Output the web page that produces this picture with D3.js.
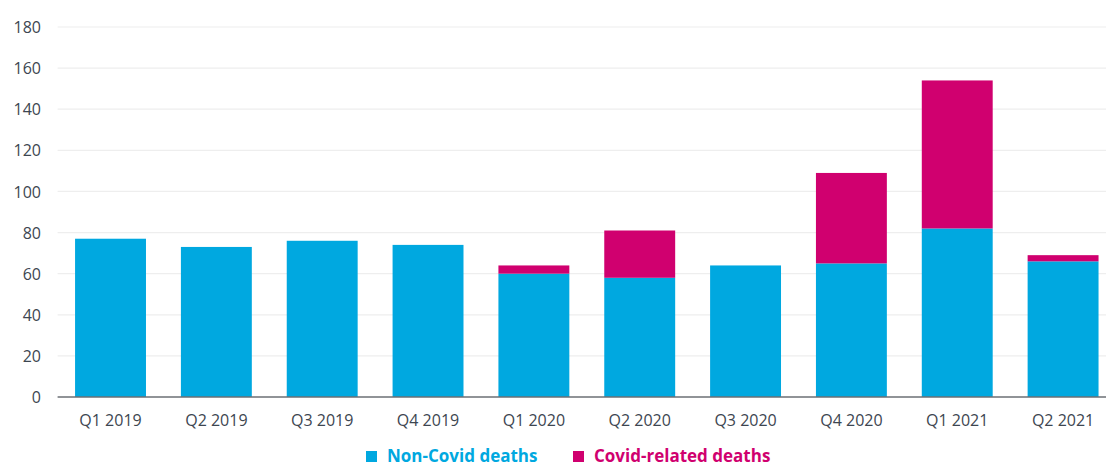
<!DOCTYPE html>
<html>
<head>
<meta charset="utf-8">
<script src="https://cdn.jsdelivr.net/npm/d3@7"></script>
<style>
  html, body { margin: 0; padding: 0; background: #ffffff; }
  svg { display: block; font-family: "Open Sans", "Noto Sans", sans-serif; }
</style>
</head>
<body>
<svg id="chart" width="1106" height="466"></svg>
<script>
// Quarterly deaths, split into non-Covid and Covid-related
const quarters = ["Q1 2019", "Q2 2019", "Q3 2019", "Q4 2019", "Q1 2020",
                  "Q2 2020", "Q3 2020", "Q4 2020", "Q1 2021", "Q2 2021"];
const nonCovid = [77, 73, 76, 74, 60, 58, 64, 65, 82, 66];
const covid    = [0, 0, 0, 0, 4, 23, 0, 44, 72, 3];
const yTicks   = [0, 20, 40, 60, 80, 100, 120, 140, 160, 180];
const seriesNames = ["Non-Covid deaths", "Covid-related deaths"];
const seriesColors = ["#00a8e0", "#d0006f"];

const FONT = '"Open Sans", "Noto Sans", sans-serif';
const svg = d3.select("#chart");
const W = 1106;
const margin = { left: 57.6, right: 1116, top: 27, bottom: 397 };

const rows = quarters.map((q, i) => ({ q, nonCovid: nonCovid[i], covid: covid[i] }));
const stack = d3.stack().keys(["nonCovid", "covid"])(rows);

const x = d3.scaleBand().domain(quarters).range([margin.left, margin.right]).paddingInner(0.33).paddingOuter(0.165);
const y = d3.scaleLinear().domain([0, 180]).range([margin.bottom, margin.top]);

// Horizontal gridlines
svg.append("g").selectAll("line").data(yTicks.filter(d => d > 0)).join("line")
  .attr("x1", margin.left).attr("x2", W)
  .attr("y1", d => y(d)).attr("y2", d => y(d))
  .attr("stroke", "#eeeeee").attr("stroke-width", 1.2);

// Y axis labels
const yAxis = d3.axisLeft(y).tickValues(yTicks).tickSize(0).tickPadding(0);
const gy = svg.append("g").attr("transform", `translate(41,0)`).call(yAxis)
  .attr("font-family", FONT).attr("font-size", 16);
gy.select(".domain").remove();
gy.selectAll("text").attr("fill", "#3d4651").attr("dy", "0.35em");

// Stacked bars
svg.append("g").selectAll("g").data(stack).join("g")
  .attr("fill", (d, i) => seriesColors[i])
  .selectAll("rect").data(d => d.filter(p => p[1] > p[0])).join("rect")
  .attr("x", d => x(d.data.q))
  .attr("width", x.bandwidth())
  .attr("y", d => y(d[1]))
  .attr("height", d => y(d[0]) - y(d[1]));

// Baseline
svg.append("line")
  .attr("x1", margin.left).attr("x2", W)
  .attr("y1", y(0)).attr("y2", y(0))
  .attr("stroke", "#6b6f74").attr("stroke-width", 1.5);

// X axis labels
const xAxis = d3.axisBottom(x).tickSize(0).tickPadding(0);
const gx = svg.append("g").attr("transform", `translate(0,${y(0)})`).call(xAxis)
  .attr("font-family", FONT).attr("font-size", 16);
gx.select(".domain").remove();
gx.selectAll("text").attr("fill", "#3d4651").attr("y", 18).attr("dy", "0.71em");

// Legend
const legendX = [366, 573];
const legend = svg.append("g").selectAll("g").data(seriesNames).join("g")
  .attr("transform", (d, i) => `translate(${legendX[i]},451)`);
legend.append("rect").attr("width", 11).attr("height", 11)
  .attr("fill", (d, i) => seriesColors[i]);
legend.append("text").attr("x", 21).attr("y", 5.5).attr("dy", "0.35em")
  .attr("fill", (d, i) => seriesColors[i])
  .attr("font-family", FONT).attr("font-size", 17).attr("font-weight", 700)
  .text(d => d);
</script>
</body>
</html>
